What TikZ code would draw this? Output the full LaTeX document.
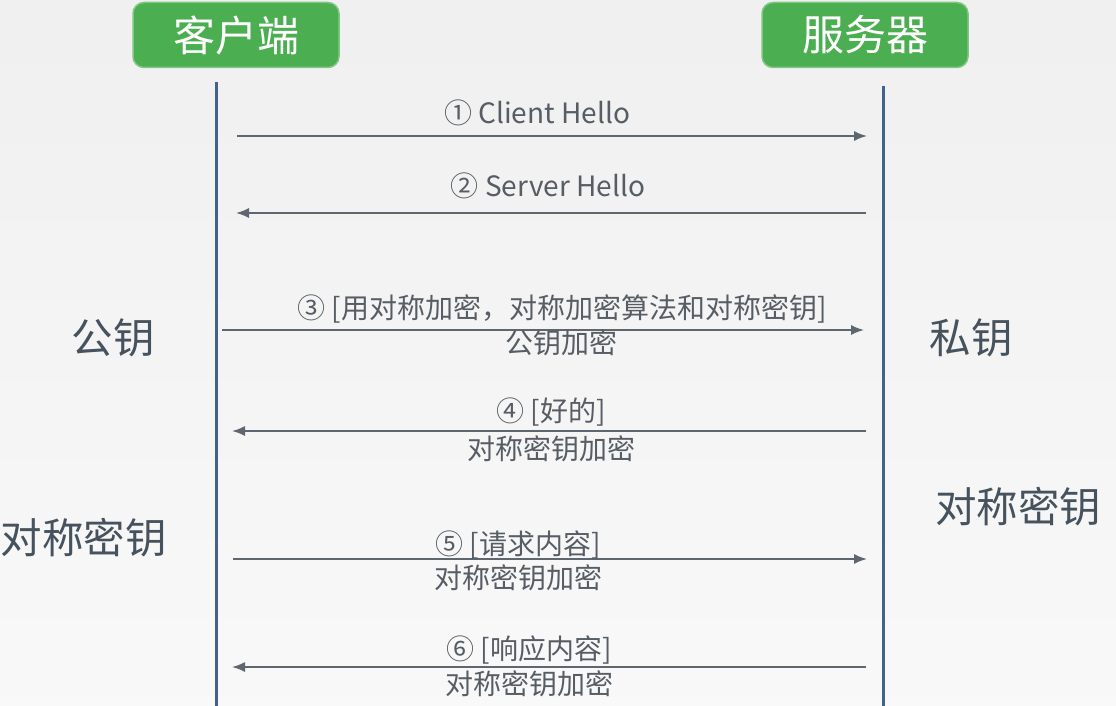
\documentclass[tikz,border=0pt]{standalone}
\usepackage{fontspec}
\setmainfont{Noto Sans CJK SC}
\usetikzlibrary{arrows.meta}
\definecolor{boxgreen}{HTML}{4BAE50}
\definecolor{lineblue}{HTML}{41628A}
\definecolor{msggray}{HTML}{5E6670}
\definecolor{textgray}{HTML}{575D64}
\definecolor{keygray}{HTML}{46525E}
\tikzstyle{actor} = [draw=boxgreen!70!white, line width=1.5pt, fill=boxgreen,
    rounded corners=11pt, text=white, minimum width=206pt, minimum height=65pt,
    font=\fontsize{42}{44}\selectfont]
\tikzstyle{lifeline} = [draw=lineblue, line width=3pt]
\tikzstyle{msg} = [draw=msggray, line width=1.6pt, -{Latex[length=13pt,width=10pt]}]
\tikzstyle{msgtext} = [text=textgray, inner sep=0pt, font=\fontsize{28}{30}\selectfont]
\tikzstyle{keytext} = [text=keygray, inner sep=0pt, font=\fontsize{41.5}{44}\selectfont]

\begin{document}
\begin{tikzpicture}[x=1pt, y=-1pt]
    % background
    \fill[top color=gray!12, bottom color=gray!5] (0,0) rectangle (1116,706);
    \useasboundingbox (0,0) rectangle (1116,706);

    % % % % % % % % % % % % % % % % % % % % % % %
    % Actors and lifelines
    % % % % % % % % % % % % % % % % % % % % % % %
    \node [actor] (client) at (236,35) {客户端};
    \node [actor] (server) at (865,35) {服务器};

    \coordinate (ctop) at (216,82);
    \coordinate (cbot) at (216,706);
    \coordinate (stop) at (883,86);
    \coordinate (sbot) at (883,706);
    \draw [lifeline] (ctop) -- (cbot);
    \draw [lifeline] (stop) -- (sbot);

    % % % % % % % % % % % % % % % % % % % % % % %
    % Messages
    % % % % % % % % % % % % % % % % % % % % % % %
    % Client Hello
    \coordinate (c1) at (237,136);
    \coordinate (s1) at (867,136);
    \draw [msg] (c1) -- (s1);
    \node [msgtext] (m1) at (537,113) {① Client Hello};

    % Server Hello
    \coordinate (s2) at (866,213);
    \coordinate (c2) at (236,213);
    \draw [msg] (s2) -- (c2);
    \node [msgtext] (m2) at (548,186) {② Server Hello};

    % key exchange
    \coordinate (c3) at (222,330);
    \coordinate (s3) at (864,330);
    \draw [msg] (c3) -- (s3);
    \node [msgtext] (m3) at (562,309) {③ [用对称加密，对称加密算法和对称密钥]};
    \node [msgtext] (e3) at (561,343) {公钥加密};

    % ok
    \coordinate (s4) at (866,431);
    \coordinate (c4) at (232,431);
    \draw [msg] (s4) -- (c4);
    \node [msgtext] (m4) at (551,412) {④ [好的]};
    \node [msgtext] (e4) at (551,449) {对称密钥加密};

    % request
    \coordinate (c5) at (233,559);
    \coordinate (s5) at (867,559);
    \draw [msg] (c5) -- (s5);
    \node [msgtext] (m5) at (518,545) {⑤ [请求内容]};
    \node [msgtext] (e5) at (518,578) {对称密钥加密};

    % response
    \coordinate (s6) at (866,667);
    \coordinate (c6) at (232,667);
    \draw [msg] (s6) -- (c6);
    \node [msgtext] (m6) at (529,650) {⑥ [响应内容]};
    \node [msgtext] (e6) at (529,684) {对称密钥加密};

    % % % % % % % % % % % % % % % % % % % % % % %
    % Keys held on each side
    % % % % % % % % % % % % % % % % % % % % % % %
    \node [keytext] (pub) at (113,338) {公钥};
    \node [keytext] (priv) at (971,338) {私钥};
    \node [keytext] (csym) at (84,538) {对称密钥};
    \node [keytext] (ssym) at (1018,507) {对称密钥};
\end{tikzpicture}
\end{document}
